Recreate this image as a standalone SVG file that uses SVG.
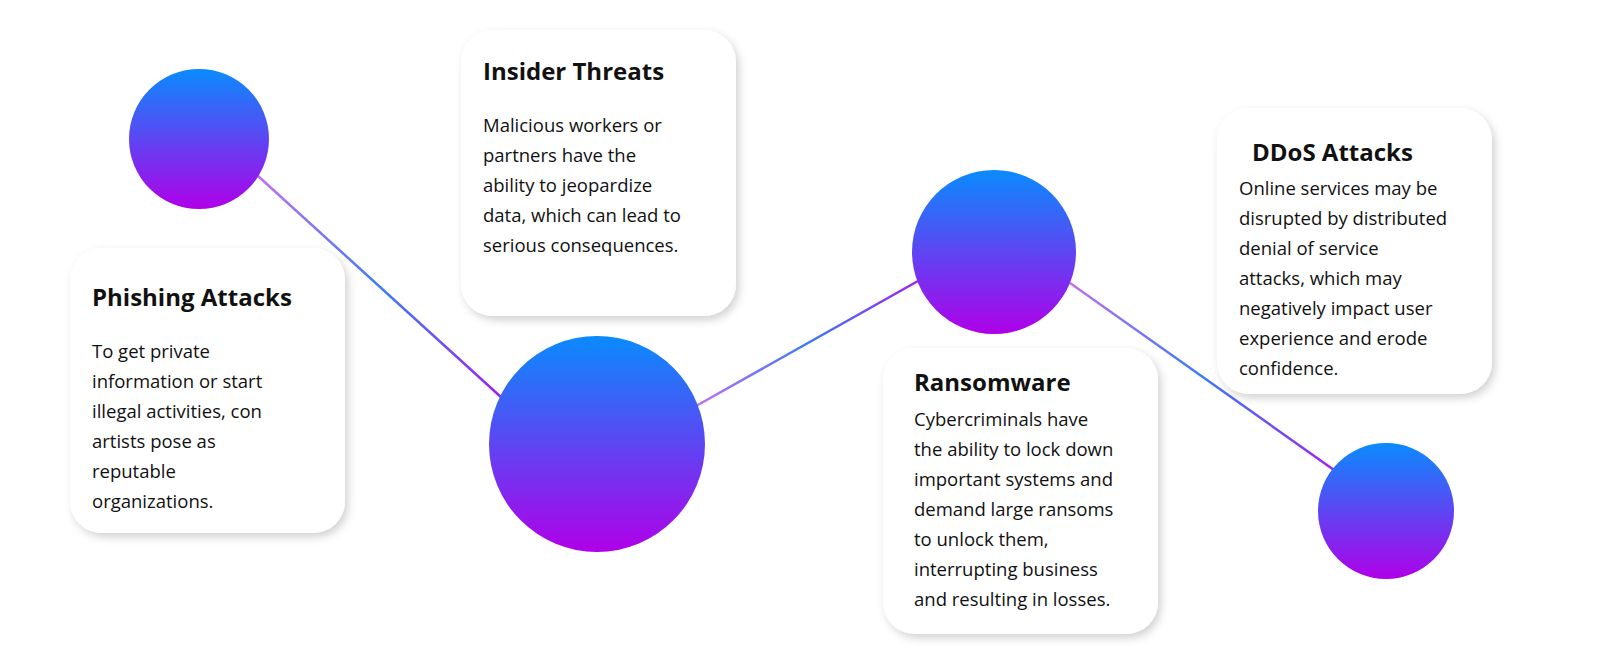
<svg xmlns="http://www.w3.org/2000/svg" width="1600" height="667" viewBox="0 0 1600 667">
<defs>
<linearGradient id="cg" x1="0" y1="0" x2="0" y2="1"><stop offset="0" stop-color="#0a8bfd"/><stop offset="1" stop-color="#b000e8"/></linearGradient>
<linearGradient id="lg" x1="0" y1="0" x2="1" y2="0"><stop offset="0" stop-color="#c070f0"/><stop offset="0.5" stop-color="#3a7cf8"/><stop offset="1" stop-color="#a020f0"/></linearGradient>
<filter id="sh" x="-20%" y="-20%" width="140%" height="140%"><feDropShadow dx="3" dy="4" stdDeviation="4" flood-color="#000" flood-opacity="0.18"/></filter>
</defs>
<style>
.card{fill:#fff;filter:url(#sh)}
.t{font-family:"Open Sans",Lato,sans-serif;font-weight:bold;font-size:24px;fill:#111}
.b{font-family:"Open Sans",Lato,sans-serif;font-size:18.5px;fill:#111}
.ln{stroke-width:2.5;fill:none}
</style>
<rect width="1600" height="667" fill="#fff"/>
<g id="connectors">
<line class="ln" x1="258" y1="176" x2="502" y2="398" stroke="url(#lg)"/>
<line class="ln" x1="696" y1="406" x2="918" y2="281" stroke="url(#lg)"/>
<line class="ln" x1="1070" y1="283" x2="1334" y2="470" stroke="url(#lg)"/>
</g>
<g id="c1"><circle cx="199" cy="139" r="70" fill="url(#cg)"/></g>
<g id="c2"><circle cx="597" cy="444" r="108" fill="url(#cg)"/></g>
<g id="c3"><circle cx="994" cy="252" r="82" fill="url(#cg)"/></g>
<g id="c4"><circle cx="1386" cy="511" r="68" fill="url(#cg)"/></g>
<g id="phishing"><rect class="card" x="70" y="248" width="275" height="285" rx="32"/>
<text class="t" x="92" y="306">Phishing Attacks</text>
<text class="b"><tspan x="92" y="358">To get private</tspan><tspan x="92" y="388">information or start</tspan><tspan x="92" y="418">illegal activities, con</tspan><tspan x="92" y="448">artists pose as</tspan><tspan x="92" y="478">reputable</tspan><tspan x="92" y="508">organizations.</tspan></text></g>
<g id="insider"><rect class="card" x="461" y="30" width="275" height="286" rx="32"/>
<text class="t" x="483" y="80">Insider Threats</text>
<text class="b"><tspan x="483" y="132">Malicious workers or</tspan><tspan x="483" y="162">partners have the</tspan><tspan x="483" y="192">ability to jeopardize</tspan><tspan x="483" y="222">data, which can lead to</tspan><tspan x="483" y="252">serious consequences.</tspan></text></g>
<g id="ransomware"><rect class="card" x="883" y="348" width="275" height="286" rx="32"/>
<text class="t" x="914" y="391">Ransomware</text>
<text class="b"><tspan x="914" y="426">Cybercriminals have</tspan><tspan x="914" y="456">the ability to lock down</tspan><tspan x="914" y="486">important systems and</tspan><tspan x="914" y="516">demand large ransoms</tspan><tspan x="914" y="546">to unlock them,</tspan><tspan x="914" y="576">interrupting business</tspan><tspan x="914" y="606">and resulting in losses.</tspan></text></g>
<g id="ddos"><rect class="card" x="1217" y="108" width="275" height="286" rx="32"/>
<text class="t" x="1252" y="161">DDoS Attacks</text>
<text class="b"><tspan x="1239" y="195">Online services may be</tspan><tspan x="1239" y="225">disrupted by distributed</tspan><tspan x="1239" y="255">denial of service</tspan><tspan x="1239" y="285">attacks, which may</tspan><tspan x="1239" y="315">negatively impact user</tspan><tspan x="1239" y="345">experience and erode</tspan><tspan x="1239" y="375">confidence.</tspan></text></g>
</svg>
